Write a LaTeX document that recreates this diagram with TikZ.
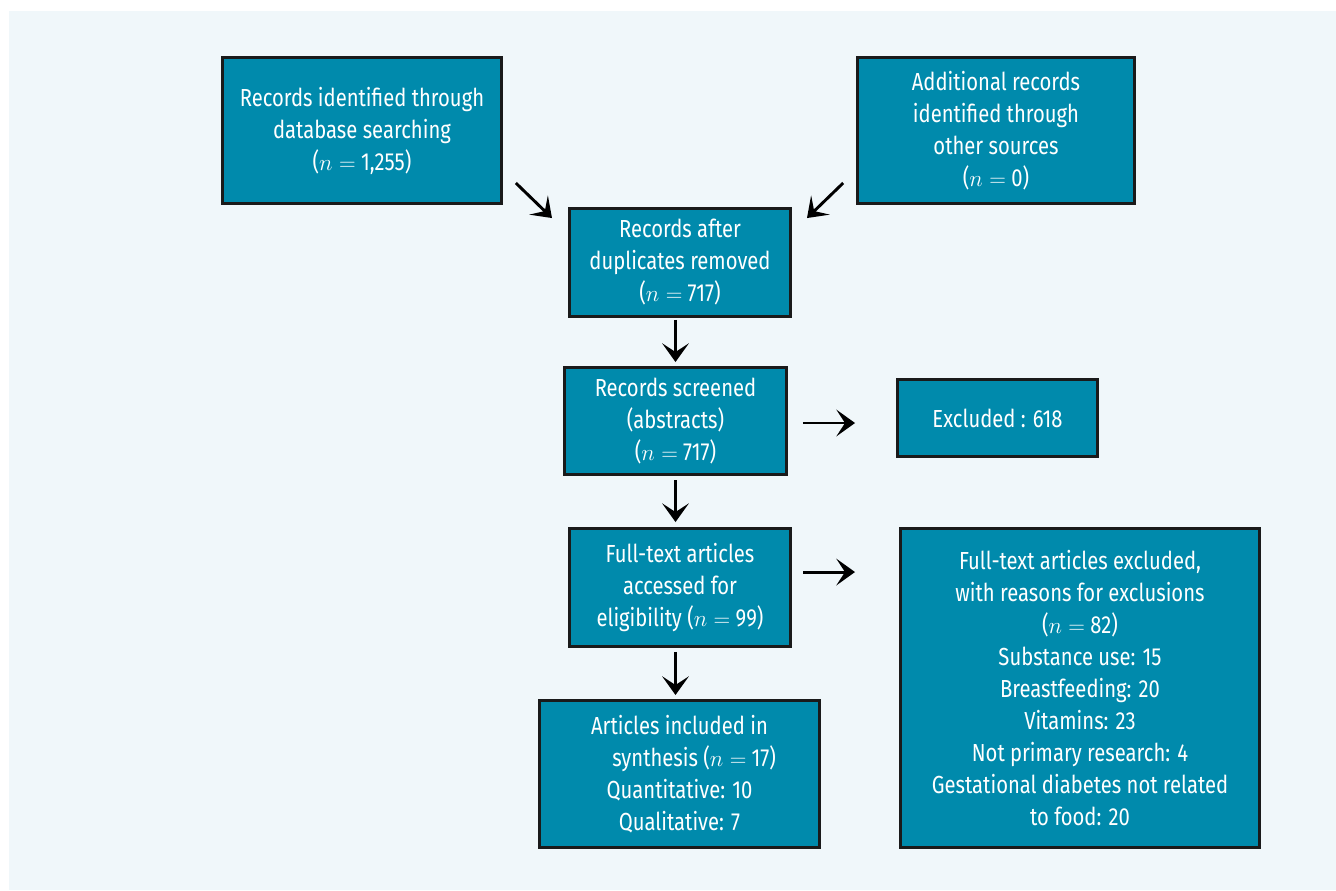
\documentclass[tikz,border=0pt]{standalone}
\usepackage{fontspec}
\setmainfont{Fira Sans}[FakeStretch=0.82]
\usetikzlibrary{arrows.meta}
\definecolor{bg}{HTML}{F0F7FA}
\definecolor{boxfill}{HTML}{008AAC}
\definecolor{edge}{HTML}{1A1A1A}
\tikzset{
  box/.style={draw=edge, line width=2.2pt, fill=boxfill, text=white, align=center,
    inner sep=0pt, font=\fontsize{18.5}{24}\selectfont},
  arr/.style={line width=2.2pt, -{Stealth[length=14pt,width=20pt,inset=6.5pt]}}
}
\begin{document}
\begin{tikzpicture}[x=0.75pt,y=-0.75pt]
\useasboundingbox (0,0) rectangle (1336,890);
\fill[bg] (9,11) rectangle (1336,890);
\fill[white] (0,0) rectangle (1336,11);
\node[box, minimum width=209pt, minimum height=109.5pt] (b1) at (362,130.5)
  {Records identified through\\database searching\\($n =$ 1,255)};
\node[box, minimum width=207.5pt, minimum height=109.5pt] (b2) at (996,130.5)
  {Additional records\\identified through\\other sources\\($n =$ 0)};
\node[box, minimum width=165.8pt, minimum height=81pt] (b3) at (680,262.5)
  {Records after\\duplicates removed\\($n =$ 717)};
\node[box, minimum width=166.5pt, minimum height=80.3pt] (b4) at (675.5,421)
  {Records screened\\(abstracts)\\($n =$ 717)};
\node[box, minimum width=150pt, minimum height=57.8pt] (b5) at (997.5,418)
  {Excluded : 618};
\node[box, minimum width=165.8pt, minimum height=88.5pt] (b6) at (680,587.5)
  {Full-text articles\\accessed for\\eligibility ($n =$ 99)};
\node[box, minimum width=269.3pt, minimum height=239.3pt] (b7) at (1080,688)
  {Full-text articles excluded,\\with reasons for exclusions\\($n =$ 82)\\Substance use: 15\\Breastfeeding: 20\\Vitamins: 23\\Not primary research: 4\\Gestational diabetes not related\\to food: 20};
\node[box, minimum width=210pt, minimum height=110.3pt] (b8) at (679.5,774)
  {Articles included in\\\hspace*{22pt}synthesis ($n =$ 17)\\Quantitative: 10\\Qualitative: 7};
% connectors
\draw[arr] ([xshift=9.75pt,yshift=16.5pt]b1.south east) -- ([xshift=-12pt,yshift=-8.25pt]b3.north west);
\draw[arr] ([xshift=-9.75pt,yshift=16.5pt]b2.south west) -- ([xshift=11.25pt,yshift=-8.25pt]b3.north east);
\draw[arr, shorten <=1.5pt, shorten >=3pt] (b3.south -| b4.north) -- (b4.north);
\draw[arr, shorten <=3pt, shorten >=3.75pt] (b4.south) -- (b4.south |- b6.north);
\draw[arr, shorten <=3pt, shorten >=3pt] (b6.south -| b4.south) -- (b8.north -| b4.south);
\draw[arr, shorten <=11.25pt, shorten >=30.75pt] ([yshift=-1.5pt]b4.east) -- ([yshift=-1.5pt]b4.east -| b5.west);
\draw[arr, shorten <=8.25pt, shorten >=33pt] ([yshift=11.6pt]b6.east) -- ([yshift=11.6pt]b6.east -| b7.west);
\end{tikzpicture}
\end{document}
